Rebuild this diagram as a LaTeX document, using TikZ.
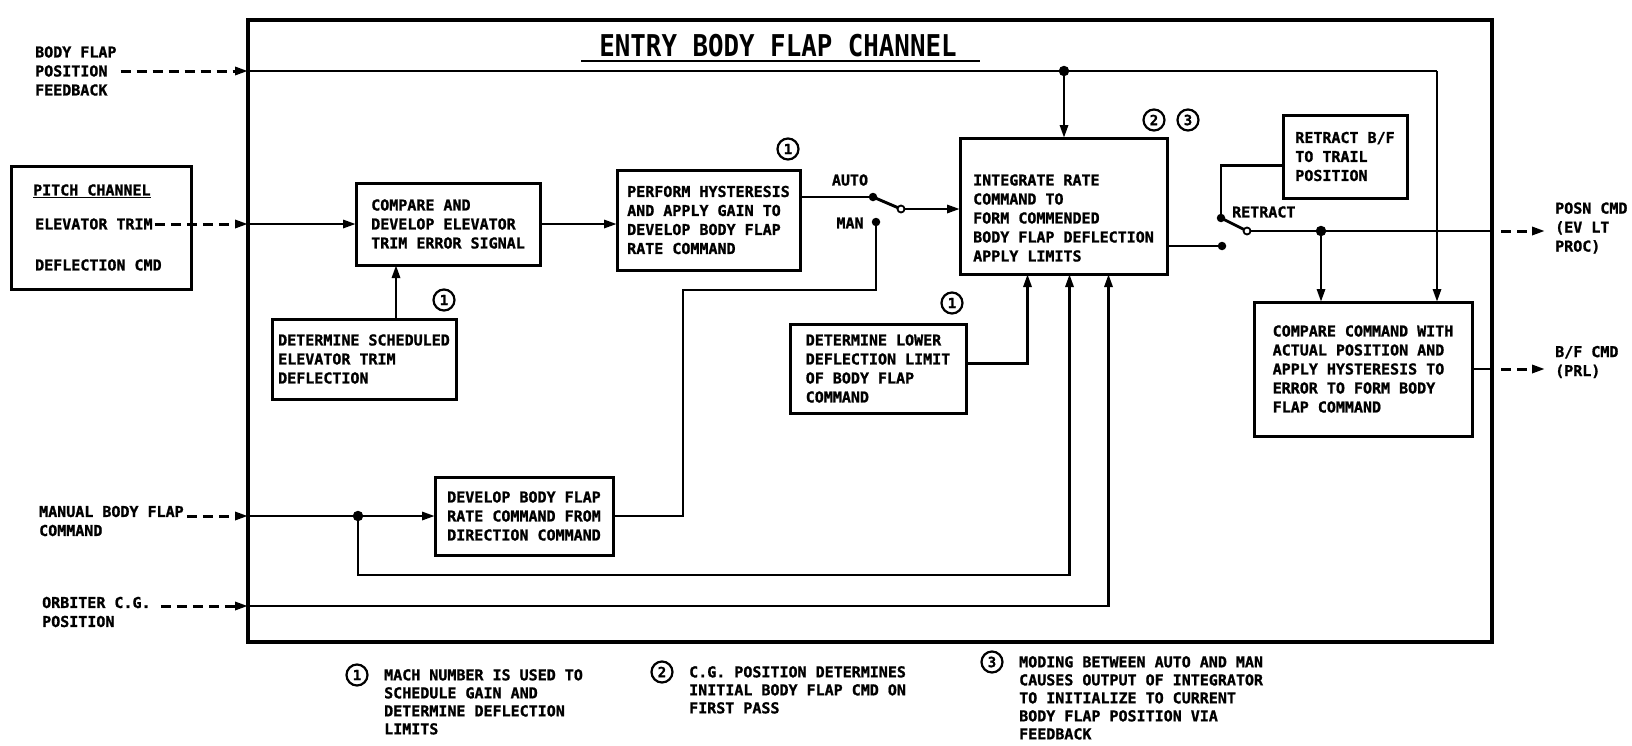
\documentclass[tikz,border=0pt]{standalone}
\usepackage{fontspec}
\setmainfont{DejaVu Sans Mono}[BoldFeatures={FakeBold=1.2}]
\newfontfamily\titlefont{DejaVu Sans Mono}[FakeStretch=0.86]
\usetikzlibrary{arrows.meta}

\newcommand{\boxtxt}{\fontsize{15}{19}\selectfont\bfseries}
\newcommand{\notetxt}{\fontsize{15}{18}\selectfont\bfseries}

\tikzset{
  wire/.style={line width=2.9pt},
  sig/.style={line width=2.9pt, -{Triangle[length=13pt,width=8pt]}},
  dashin/.style={line width=3pt, dash pattern=on 10pt off 6pt, -{Triangle[length=13pt,width=8pt]}},
  blk/.style={draw, line width=3pt, align=left, anchor=north west, outer sep=0pt, font=\boxtxt},
  lbl/.style={align=left, inner sep=0pt, anchor=west, font=\boxtxt},
  num/.style={draw, circle, line width=2.2pt, inner sep=0pt, minimum size=21pt, font=\fontsize{14}{14}\selectfont\bfseries},
  joint/.style={circle, fill, inner sep=0pt, minimum size=10.5pt},
  contact/.style={circle, fill, inner sep=0pt, minimum size=8.5pt},
  pivot/.style={circle, draw, fill=white, line width=1.8pt, inner sep=0pt, minimum size=7pt}
}

\begin{document}
\begin{tikzpicture}[x=1pt,y=-1pt]
\useasboundingbox (0,0) rectangle (1632,745);

\node[draw, line width=4.6pt, anchor=north west, outer sep=0pt, minimum width=1244pt, minimum height=622pt] (chan) at (248,20) {};
\node[font=\titlefont\fontsize{30}{30}\selectfont\bfseries, inner sep=0pt, anchor=base] (title) at (778,56) {ENTRY BODY FLAP CHANNEL};
\draw[wire] ([xshift=-18pt,yshift=-5pt]title.base west) -- ([xshift=23pt,yshift=-5pt]title.base east);

\node[blk, minimum width=180pt, minimum height=123pt] (pitch) at (11,166) {};
\node[lbl] (pitchhead) at (33,191) {\underline{PITCH CHANNEL}};
\node[lbl] (trimlbl) at (35,224) {ELEVATOR TRIM};
\node[lbl] (defllbl) at (35,265) {DEFLECTION CMD};

\node[blk, minimum width=184pt, minimum height=82pt] (compare) at (356,183) {COMPARE AND\\DEVELOP ELEVATOR\\TRIM ERROR SIGNAL};
\node[blk, minimum width=184pt, minimum height=80pt] (sched) at (272,319) {DETERMINE SCHEDULED\\ELEVATOR TRIM\\DEFLECTION};
\node[blk, minimum width=183pt, minimum height=100pt] (perform) at (617,170) {PERFORM HYSTERESIS\\AND APPLY GAIN TO\\DEVELOP BODY FLAP\\RATE COMMAND};
\node[blk, minimum width=207pt, minimum height=136pt] (integ) at (960,138) {};
\node[lbl] (integtxt) at (973,218) {INTEGRATE RATE\\COMMAND TO\\FORM COMMENDED\\BODY FLAP DEFLECTION\\APPLY LIMITS};
\node[blk, minimum width=124pt, minimum height=83pt] (retract) at (1283,115) {RETRACT B/F\\TO TRAIL\\POSITION};
\node[blk, minimum width=218pt, minimum height=134pt] (cmpcmd) at (1254,302) {COMPARE COMMAND WITH\\ACTUAL POSITION AND\\APPLY HYSTERESIS TO\\ERROR TO FORM BODY\\FLAP COMMAND};
\node[blk, minimum width=176pt, minimum height=89pt] (lower) at (790,324) {DETERMINE LOWER\\DEFLECTION LIMIT\\OF BODY FLAP\\COMMAND};
\node[blk, minimum width=178pt, minimum height=78pt] (develop) at (435,477) {DEVELOP BODY FLAP\\RATE COMMAND FROM\\DIRECTION COMMAND};

\node[num] (m1a) at (444,300) {1};
\node[num] (m1b) at (788,149) {1};
\node[num] (m1c) at (952,303) {1};
\node[num] (m2) at (1154,120) {2};
\node[num] (m3) at (1188,120) {3};

\node[lbl] (fblbl) at (35,71) {BODY FLAP\\POSITION\\FEEDBACK};
\node[lbl] (mblbl) at (39,521) {MANUAL BODY FLAP\\COMMAND};
\node[lbl] (oblbl) at (42,612) {ORBITER C.G.\\POSITION};
\node[lbl] (posnlbl) at (1555,228) {POSN CMD\\(EV LT\\PROC)};
\node[lbl] (bflbl) at (1555,362) {B/F CMD\\(PRL)};

\coordinate (fbin) at (fblbl.east -| chan.west);
\coordinate (trimin) at (trimlbl.east -| chan.west);
\coordinate (mbin) at (chan.west |- develop.west);
\coordinate (obin) at (chan.west |- 0,606);
\coordinate (fbcorner) at (1437,71);
\coordinate (ilow) at ([xshift=-36pt]integ.south);
\coordinate (iman) at ([xshift=6pt]integ.south);
\coordinate (icg) at ([xshift=45pt]integ.south);

\draw[dashin] ([xshift=4pt]fblbl.east) -- (fbin);
\node[joint] (fbdot) at (1064,71) {};
\draw[wire] (fbin) -- (fbcorner);
\draw[sig] (fbcorner) -- (fbcorner |- cmpcmd.north);
\draw[sig] (fbdot.center) -- (fbdot |- integ.north);

\draw[dashin] ([xshift=2pt]trimlbl.east) -- (trimin);
\draw[sig] (trimin) -- (trimin -| compare.west);
\draw[sig] ([xshift=32pt]sched.north) -- ([xshift=32pt]sched.north |- compare.south);
\draw[sig] (compare.east) -- (compare.east -| perform.west);

\node[contact] (autodot) at (873,197) {};
\node[contact] (mandot) at (876,222) {};
\node[lbl, anchor=center] (autolbl) at (850,180) {AUTO};
\node[lbl, anchor=center] (manlbl) at (850,223) {MAN};
\draw[wire] (perform.east |- autodot) -- (autodot.center);
\draw[wire] (autodot.center) -- (901,209) node[pivot] (apivot) {};
\draw[sig] (apivot) -- (apivot -| integ.west);
\draw[wire] (mandot.center) |- (683,290) |- (develop.east);

\draw[dashin] ([xshift=3pt]mblbl.east |- mbin) -- (mbin);
\node[joint] (mbdot) at (358,516) {};
\draw[wire] (mbin) -- (mbdot.center);
\draw[sig] (mbdot) -- (develop.west);
\draw[sig] (mbdot.center) |- (iman |- 0,575) -- (iman);

\draw[sig] ([yshift=5pt]lower.east) -| (ilow);

\draw[dashin] ([xshift=10pt]oblbl.east |- obin) -- (obin);
\draw[sig] (obin) -| (icg);

\node[contact] (idot) at (1222,246) {};
\node[contact] (rdot) at (1221,218) {};
\node[lbl] (retlbl) at (1232,212) {RETRACT};
\draw[wire] (idot -| integ.east) -- (idot.center);
\draw[wire] (rdot.center) |- ([yshift=-9pt]retract.west);
\coordinate (posnout) at (chan.east |- 0,231);
\coordinate (posnend) at (1545,231);
\draw[wire] (rdot.center) -- (1247,231) node[pivot] (rpivot) {};
\draw[wire] (rpivot) -- (posnout);
\node[joint] (odot) at (1321,231) {};
\draw[sig] (odot.center) -- (odot |- cmpcmd.north);
\draw[dashin] ([xshift=9pt]posnout) -- (posnend);

\coordinate (bfout) at (chan.east |- cmpcmd.east);
\coordinate (bfend) at (1545,369);
\draw[wire] (cmpcmd.east) -- (bfout);
\draw[dashin] ([xshift=9pt]bfout) -- (bfend);

\node[num] (k1) at (357,675) {1};
\node[lbl, anchor=north west, font=\notetxt] (note1) at (384,669) {MACH NUMBER IS USED TO\\SCHEDULE GAIN AND\\DETERMINE DEFLECTION\\LIMITS};
\node[num] (k2) at (662,672) {2};
\node[lbl, anchor=north west, font=\notetxt] (note2) at (689,666) {C.G. POSITION DETERMINES\\INITIAL BODY FLAP CMD ON\\FIRST PASS};
\node[num] (k3) at (992,662) {3};
\node[lbl, anchor=north west, font=\notetxt] (note3) at (1019,656) {MODING BETWEEN AUTO AND MAN\\CAUSES OUTPUT OF INTEGRATOR\\TO INITIALIZE TO CURRENT\\BODY FLAP POSITION VIA\\FEEDBACK};
\end{tikzpicture}
\end{document}
